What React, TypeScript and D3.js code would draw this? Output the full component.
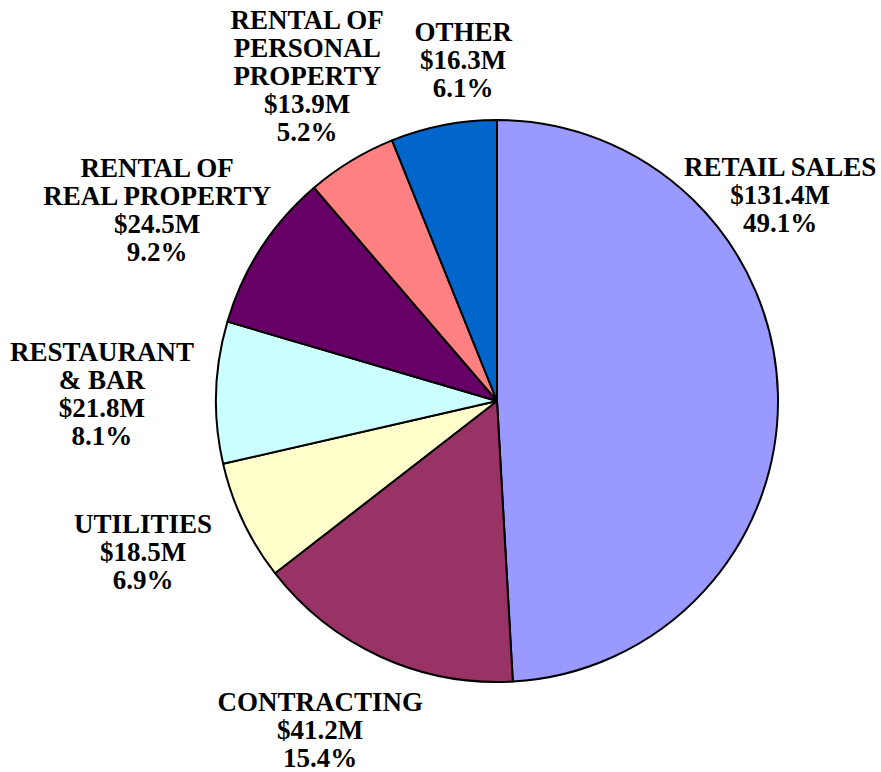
import React, { useEffect, useRef } from "react";
import * as d3 from "d3";

// slice data, clockwise from 12 o'clock
const categories = [
  "RETAIL SALES",
  "CONTRACTING",
  "UTILITIES",
  "RESTAURANT & BAR",
  "RENTAL OF REAL PROPERTY",
  "RENTAL OF PERSONAL PROPERTY",
  "OTHER"
];
const nameLines = [
  ["RETAIL SALES"],
  ["CONTRACTING"],
  ["UTILITIES"],
  ["RESTAURANT", "& BAR"],
  ["RENTAL OF", "REAL PROPERTY"],
  ["RENTAL OF", "PERSONAL", "PROPERTY"],
  ["OTHER"]
];
const revenue = [131.4, 41.2, 18.5, 21.8, 24.5, 13.9, 16.3]; // $M

const sliceColors = ["#9999FF", "#993366", "#FFFFCC", "#CCFFFF", "#660066", "#FF8080", "#0066CC"];

// label placement: [angle shift in degrees, radius factor]
const labelPlacement: [number, number][] = [
  [-34.4, 1.246],
  [3.8, 1.328],
  [2.2, 1.37],
  [-0.8, 1.406],
  [-3.6, 1.387],
  [1.0, 1.34],
  [5.3, 1.22]
];

const width = 881;
const height = 772;
const cx = 497;
const cy = 401;
const radius = 281;
const fontSize = 27;
const lineHeight = 28;
const capHeight = 18;

interface Slice {
  name: string;
  value: number;
  idx: number;
}

const PieChart: React.FC = () => {
  const svgRef = useRef<SVGSVGElement>(null);

  useEffect(() => {
    if (svgRef.current === null) return;
    const svg = d3.select(svgRef.current);
    svg.selectAll("*").remove();

    const data: Slice[] = categories.map((c, i) => ({ name: c, value: revenue[i], idx: i }));
    const total = d3.sum(revenue);

    const pie = d3
      .pie<Slice>()
      .sort(null)
      .value(d => d.value);
    const arc = d3
      .arc<d3.PieArcDatum<Slice>>()
      .innerRadius(0)
      .outerRadius(radius);

    const arcs = pie(data);
    const g = svg.append("g").attr("transform", `translate(${cx}, ${cy})`);

    g.selectAll("path")
      .data(arcs)
      .enter()
      .append("path")
      .attr("d", arc)
      .attr("fill", d => sliceColors[d.data.idx])
      .attr("stroke", "#000")
      .attr("stroke-width", 2)
      .attr("stroke-linejoin", "round");

    const labels = g
      .selectAll("text")
      .data(arcs)
      .enter()
      .append("text")
      .attr("text-anchor", "middle")
      .attr("font-family", "'Liberation Serif', 'Times New Roman', serif")
      .attr("font-weight", "bold")
      .attr("font-size", fontSize)
      .attr("fill", "#000");

    labels.each(function (d) {
      const [shift, factor] = labelPlacement[d.data.idx];
      const mid = (d.startAngle + d.endAngle) / 2 + (shift * Math.PI) / 180;
      const r = radius * factor;
      const x = r * Math.sin(mid);
      const y = -r * Math.cos(mid);
      const lines = [
        ...nameLines[d.data.idx],
        `$${d.data.value.toFixed(1)}M`,
        `${((d.data.value / total) * 100).toFixed(1)}%`
      ];
      const firstBaseline = y - (lineHeight * (lines.length - 1) - capHeight) / 2;
      const t = d3.select(this);
      lines.forEach((line, k) => {
        t.append("tspan")
          .attr("x", x)
          .attr("y", firstBaseline + k * lineHeight)
          .text(line);
      });
    });
  }, []);

  return (
    <svg
      ref={svgRef}
      width={width}
      height={height}
      style={{ position: "absolute", left: 0, top: 0, background: "#fff" }}
    />
  );
};

const App: React.FC = () => <PieChart />;

export default App;
